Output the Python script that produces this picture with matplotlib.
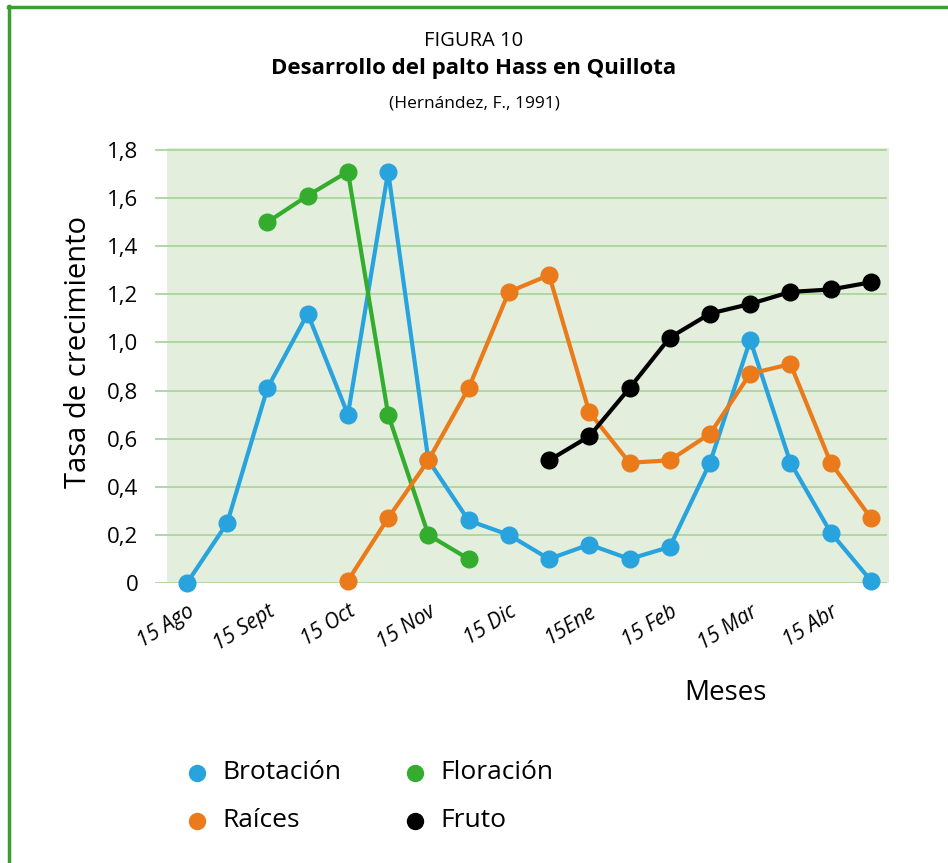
import matplotlib.pyplot as plt
from matplotlib.lines import Line2D

# half-month steps from 15 Ago to 15 Abr
meses = ["15 Ago", "15 Sept", "15 Oct", "15 Nov", "15 Dic", "15Ene", "15 Feb", "15 Mar", "15 Abr"]

brotacion = [0.0, 0.25, 0.81, 1.12, 0.70, 1.71, 0.51, 0.26, 0.20, 0.10,
             0.16, 0.10, 0.15, 0.50, 1.01, 0.50, 0.21, 0.01]
brotacion_x = list(range(0, 18))

floracion = [1.50, 1.61, 1.71, 0.70, 0.20, 0.10]
floracion_x = list(range(2, 8))

raices = [0.01, 0.27, 0.51, 0.81, 1.21, 1.28, 0.71, 0.50, 0.51, 0.62,
          0.87, 0.91, 0.50, 0.27]
raices_x = list(range(4, 18))

fruto = [0.51, 0.61, 0.81, 1.02, 1.12, 1.16, 1.21, 1.22, 1.25]
fruto_x = list(range(9, 18))

c_blue = "#29a3de"
c_green = "#34ad2f"
c_orange = "#ea7a1a"
c_black = "#000000"

plt.rcParams['font.family'] = ['Open Sans', 'DejaVu Sans']

fig = plt.figure(figsize=(9.48, 8.63), dpi=100)
ax = fig.add_axes([0.1635, 0.3244, 0.7743, 0.5041])
ax.set_facecolor("none")
ax.set_xlim(-0.795, 17.45)
ax.set_ylim(0, 1.808)

ax.axvspan(-0.5, 17.45, color="#e3eedc", zorder=0, lw=0)
for yv in [0, 0.2, 0.4, 0.6, 0.8, 1.0, 1.2, 1.4, 1.6, 1.8]:
    ax.plot([-0.795, 17.37], [yv, yv], color="#aad69c", lw=1.3, zorder=1)

series = [(brotacion_x, brotacion, c_blue), (floracion_x, floracion, c_green),
          (raices_x, raices, c_orange), (fruto_x, fruto, c_black)]
for xs, ys, col in series:
    ax.plot(xs, ys, color=col, lw=3, marker="o", markersize=12, zorder=3, clip_on=False)

for s in ax.spines.values():
    s.set_visible(False)
ax.tick_params(length=0)
ax.set_yticks([0, 0.2, 0.4, 0.6, 0.8, 1.0, 1.2, 1.4, 1.6, 1.8])
ax.set_yticklabels(["0", "0,2", "0,4", "0,6", "0,8", "1,0", "1,2", "1,4", "1,6", "1,8"], fontsize=16)
ax.tick_params(axis="y", pad=12)
ax.set_xticks(range(0, 18, 2))
ax.set_xticklabels(meses, fontsize=15, style="italic", rotation=32, ha="right", va="top",
                   rotation_mode="anchor")
ax.tick_params(axis="x", pad=13)
ax.set_ylabel("Tasa de crecimiento", fontsize=21, fontweight="medium")
ax.yaxis.set_label_coords(-0.085, 0.53)
fig.text(0.765, 0.197, "Meses", fontsize=20, fontweight="medium", ha="center", va="center")

fig.text(0.5, 0.953, "FIGURA 10", fontsize=14.5, ha="center", va="center")
fig.text(0.5, 0.921, "Desarrollo del palto Hass en Quillota", fontsize=16,
         fontweight="bold", ha="center", va="center")
fig.text(0.5, 0.88, "(Hernández, F., 1991)", fontsize=12.5, ha="center", va="center")

# legend, two columns
leg_names = ["Brotación", "Raíces", "Floración", "Fruto"]
leg_colors = [c_blue, c_orange, c_green, c_black]
leg_pos = [(0.2078, 0.1043), (0.2078, 0.0487), (0.4378, 0.1043), (0.4378, 0.0487)]
for name, col, (lx, ly) in zip(leg_names, leg_colors, leg_pos):
    fig.add_artist(Line2D([lx], [ly], ls="", marker="o", markersize=11.5, color=col,
                          transform=fig.transFigure))
    fig.text(lx + 0.0265, ly, name, fontsize=19, ha="left", va="center")

border = "#3a9f2e"
fig.add_artist(Line2D([0.0095, 0.0095], [0, 0.993], color=border, lw=2.5, transform=fig.transFigure))
fig.add_artist(Line2D([0.0083, 1.0], [0.992, 0.992], color=border, lw=2.5, transform=fig.transFigure))

fig.savefig("out.png", dpi=100)
